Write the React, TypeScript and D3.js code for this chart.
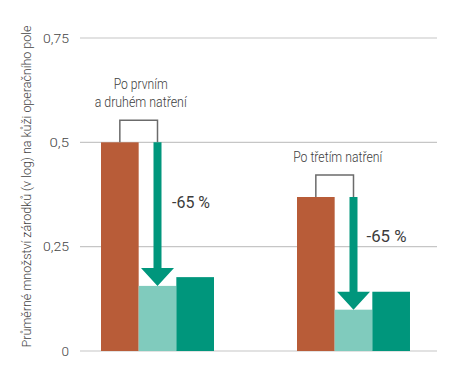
import React from "react";
import * as d3 from "d3";

const groups = ["Po prvním a druhém natření", "Po třetím natření"];
const series = ["before", "after", "control"];
const valuesBefore = [0.5, 0.369];
const valuesAfter = [0.156, 0.099];
const valuesControl = [0.177, 0.142];
const yTicks = [0, 0.25, 0.5, 0.75];
const tickLabels = ["0", "0,25", "0,5", "0,75"];
const groupLabels = [["Po prvním", "a druhém natření"], ["Po třetím natření"]];
const groupLabelWidths = [[54, 92], [89]];
const reductionLabels = ["-65 %", "-65 %"];
const yAxisTitle = "Průměrné množství zárodků (v log) na kůži operačního pole";

const colors: Record<string, string> = { before: "#b85c38", after: "#80cbbd", control: "#00967c" };
const FONT = "Roboto, 'DejaVu Sans Condensed', sans-serif";

export default function App() {
  const W = 464, H = 369;
  const y = d3.scaleLinear().domain([0, 0.75]).range([351, 38]);
  const x0 = d3.scaleBand().domain(groups).range([74, 437]).paddingInner(0.4235).paddingOuter(0.1378);
  const x1 = d3.scaleBand().domain(series).range([0, x0.bandwidth()]).padding(0);
  const data = groups.map((g, i) => ({ g, before: valuesBefore[i], after: valuesAfter[i], control: valuesControl[i] }));
  const textColor = "#3c3c3c";
  return (
    <svg width={W} height={H} style={{ position: "absolute", left: 0, top: 0 }}>
      {yTicks.map((t, i) => (
        <g key={t}>
          <line x1={80} x2={437} y1={y(t)} y2={y(t)} stroke="#c6c6c6" strokeWidth={1.2} />
          <text x={69} y={y(t)} dy="0.35em" textAnchor="end" fontFamily={FONT} fontWeight={300} fontSize={13.5} fill="#444"
            textLength={tickLabels[i].length > 1 ? tickLabels[i].length * 6.5 : undefined} lengthAdjust="spacingAndGlyphs">{tickLabels[i]}</text>
        </g>
      ))}
      <text transform={`translate(31,186.5) rotate(-90)`} textAnchor="middle" fontFamily={FONT} fontWeight={300} fontSize={13.5} fill="#444"
        textLength={322} lengthAdjust="spacingAndGlyphs">{yAxisTitle}</text>
      {data.map((d, i) => {
        const gx = x0(d.g)!;
        const bw = x1.bandwidth();
        const cBefore = gx + x1("before")! + bw / 2;
        const cAfter = gx + x1("after")! + bw / 2;
        const topBefore = y(d.before);
        const bracketTop = topBefore - 22;
        const tipY = y(d.after);
        const headH = 18;
        const headW = 33;
        const shaftW = 8;
        return (
          <g key={d.g}>
            {series.map((s) => (
              <rect key={s} x={gx + x1(s)!} y={y((d as any)[s])} width={bw} height={y(0) - y((d as any)[s])} fill={colors[s]} />
            ))}
            <path d={`M${cBefore},${topBefore} V${bracketTop} H${cAfter} V${topBefore}`} fill="none" stroke="#6b6b6b" strokeWidth={1.5} />
            <path
              d={`M${cAfter - shaftW / 2},${topBefore} H${cAfter + shaftW / 2} V${tipY - headH} H${cAfter + headW / 2} L${cAfter},${tipY} L${cAfter - headW / 2},${tipY - headH} H${cAfter - shaftW / 2} Z`}
              fill={colors.control}
            />
            {groupLabels[i].map((line, k) => (
              <text key={k} x={(cBefore + cAfter) / 2 + (i === 0 ? 2 : 3)} y={bracketTop - 13 - (groupLabels[i].length - 1 - k) * 18}
                textAnchor="middle" fontFamily={FONT} fontWeight={300} fontSize={14} fill={textColor}
                textLength={groupLabelWidths[i][k]} lengthAdjust="spacingAndGlyphs">{line}</text>
            ))}
            <text x={cAfter + (i === 0 ? 14.5 : 13)} y={i === 0 ? 208 : 242} fontFamily={FONT} fontWeight={400} fontSize={16} fill={textColor}
              textLength={i === 0 ? 38 : 40} lengthAdjust="spacingAndGlyphs">{reductionLabels[i]}</text>
          </g>
        );
      })}
    </svg>
  );
}
